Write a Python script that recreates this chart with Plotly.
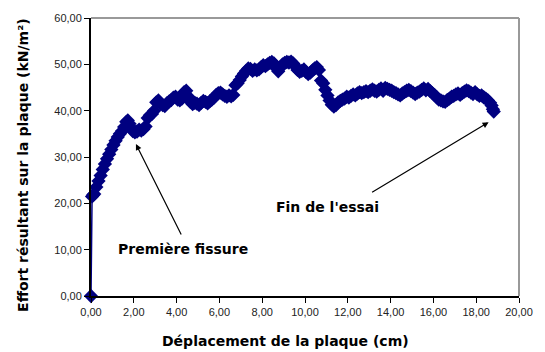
import plotly.graph_objects as go

# Displacement of the plate (cm) and resulting load on the plate (kN/m²)
deplacement = [
    0.00, 0.05, 0.10, 0.15, 0.25, 0.35, 0.45, 0.55, 0.65, 0.75,
    0.85, 0.95, 1.05, 1.15, 1.25, 1.35, 1.45, 1.55, 1.65, 1.72,
    1.80, 1.88, 1.95, 2.05, 2.15, 2.25, 2.35, 2.45, 2.55, 2.65,
    2.75, 2.85, 2.95, 3.05, 3.15, 3.25, 3.35, 3.45, 3.55, 3.65,
    3.75, 3.85, 3.95, 4.05, 4.15, 4.25, 4.35, 4.45, 4.55, 4.65,
    4.75, 4.85, 4.95, 5.05, 5.15, 5.25, 5.35, 5.45, 5.55, 5.65,
    5.75, 5.85, 5.95, 6.05, 6.15, 6.25, 6.35, 6.45, 6.55, 6.65,
    6.75, 6.85, 6.95, 7.05, 7.15, 7.25, 7.35, 7.45, 7.55, 7.65,
    7.75, 7.85, 7.95, 8.05, 8.15, 8.25, 8.35, 8.45, 8.55, 8.65,
    8.75, 8.85, 8.95, 9.05, 9.15, 9.25, 9.35, 9.45, 9.55, 9.65,
    9.75, 9.85, 9.95, 10.05, 10.15, 10.25, 10.35, 10.45, 10.55, 10.65,
    10.75, 10.85, 10.95, 11.05, 11.15, 11.25, 11.35, 11.45, 11.55, 11.65,
    11.75, 11.85, 11.95, 12.05, 12.15, 12.25, 12.35, 12.45, 12.55, 12.65,
    12.75, 12.85, 12.95, 13.05, 13.15, 13.25, 13.35, 13.45, 13.55, 13.65,
    13.75, 13.85, 13.95, 14.05, 14.15, 14.25, 14.35, 14.45, 14.55, 14.65,
    14.75, 14.85, 14.95, 15.05, 15.15, 15.25, 15.35, 15.45, 15.55, 15.65,
    15.75, 15.85, 15.95, 16.05, 16.15, 16.25, 16.35, 16.45, 16.55, 16.65,
    16.75, 16.85, 16.95, 17.05, 17.15, 17.25, 17.35, 17.45, 17.55, 17.65,
    17.75, 17.85, 17.95, 18.05, 18.15, 18.25, 18.35, 18.45, 18.55, 18.65,
    18.72, 18.78, 18.82,
]
effort = [
    0.0, 21.5, 21.8, 22.0, 23.5, 24.8, 26.0, 27.3, 28.5, 29.6,
    30.6, 31.6, 32.6, 33.5, 34.3, 35.0, 35.6, 36.5, 37.6, 37.9,
    37.2, 36.3, 35.6, 35.3, 35.5, 35.9, 35.7, 36.0, 36.6, 38.4,
    39.0, 39.3, 40.0, 41.8, 42.2, 41.5, 41.2, 41.0, 41.6, 42.0,
    42.3, 42.8, 43.0, 42.4, 42.2, 42.6, 44.0, 44.3, 43.0, 41.9,
    41.4, 41.7, 41.5, 41.2, 41.7, 42.1, 41.9, 41.6, 42.0, 42.4,
    42.8, 43.4, 43.8, 43.9, 43.5, 43.2, 43.0, 43.3, 43.1, 43.4,
    45.5, 45.9, 46.6, 47.4, 48.0, 48.6, 49.1, 49.0, 48.6, 48.9,
    48.7, 48.9, 49.4, 49.8, 49.6, 50.0, 50.3, 50.5, 50.2, 49.2,
    48.5, 49.3, 50.0, 50.3, 50.5, 50.4, 50.6, 50.2, 49.6, 48.8,
    48.4, 48.6, 48.9, 48.3, 47.9, 48.2, 48.7, 49.1, 49.4, 48.8,
    46.5, 45.9, 44.5, 43.3, 42.2, 41.3, 40.9, 41.2, 41.8, 42.1,
    42.4, 42.6, 43.0, 42.8, 43.2, 43.5, 43.3, 43.7, 44.0, 43.8,
    44.0, 44.2, 44.0, 44.3, 44.6, 44.3, 44.1, 44.5, 44.8, 44.3,
    44.9, 44.7, 44.5, 44.3, 44.0, 43.8, 43.5, 43.3, 43.7, 44.0,
    44.3, 44.5, 44.2, 43.9, 43.6, 43.9, 44.1, 44.5, 44.8, 44.4,
    44.7, 44.2, 43.8, 43.4, 42.9, 42.4, 42.2, 42.0, 41.9, 42.3,
    42.6, 43.0, 43.2, 43.5, 43.7, 43.4, 43.8, 44.1, 44.4, 44.2,
    43.9, 43.6, 44.0, 43.5, 43.2, 43.3, 42.9, 42.6, 42.2, 41.7,
    41.1, 40.3, 39.8,
]

x_ticks = [0, 2, 4, 6, 8, 10, 12, 14, 16, 18, 20]
y_ticks = [0, 10, 20, 30, 40, 50, 60]

navy = "#000080"
label_font = dict(family="DejaVu Sans", size=14, color="#000000")

fig = go.Figure()
fig.add_trace(go.Scatter(
    x=deplacement, y=effort,
    mode="lines+markers",
    line=dict(color=navy, width=1.5),
    marker=dict(symbol="diamond", size=11, color=navy, line=dict(width=0)),
    cliponaxis=False,
    showlegend=False,
))

axis_common = dict(
    showgrid=False, zeroline=False,
    showline=True, linecolor="#000000", linewidth=2,
    ticks="outside", ticklen=5, tickwidth=1, tickcolor="#000000",
    tickformat=".2f",
    tickfont=dict(family="Liberation Sans", size=11, color="#222222"),
)

fig.update_layout(
    width=545, height=352,
    margin=dict(l=91, r=16, t=13, b=56),
    paper_bgcolor="white", plot_bgcolor="white",
    separators=", ",
    xaxis=dict(range=[0, 20], tickvals=x_ticks, **axis_common),
    yaxis=dict(range=[0, 60], tickvals=y_ticks, **axis_common),
    shapes=[
        dict(type="line", xref="paper", yref="paper", x0=0, x1=1, y0=1, y1=1,
             line=dict(color="#999999", width=2)),
        dict(type="line", xref="paper", yref="paper", x0=1, x1=1, y0=0, y1=1,
             line=dict(color="#999999", width=2)),
    ],
    annotations=[
        # axis titles
        dict(text="<b>Effort résultant sur la plaque (kN/m²)</b>",
             xref="paper", yref="paper", x=-0.1575, y=0.47,
             xanchor="center", yanchor="middle", textangle=-90,
             showarrow=False, font=label_font),
        dict(text="<b>Déplacement de la plaque (cm)</b>",
             xref="paper", yref="paper", x=0.454, y=-0.1625,
             xanchor="center", yanchor="middle",
             showarrow=False, font=label_font),
        # callouts
        dict(x=2.10, y=32.8, xref="x", yref="y", ax=46, ay=92,
             showarrow=True, arrowhead=2, arrowsize=1, arrowwidth=1.2,
             arrowcolor="#000000", text=""),
        dict(text="<b>Première fissure</b>", x=4.29, y=10.2,
             xref="x", yref="y", showarrow=False, font=label_font,
             xanchor="center", yanchor="middle"),
        dict(x=18.58, y=37.5, xref="x", yref="y", ax=-118, ay=71,
             showarrow=True, arrowhead=2, arrowsize=1, arrowwidth=1.2,
             arrowcolor="#000000", text=""),
        dict(text="<b>Fin de l'essai</b>", x=11.05, y=19.3,
             xref="x", yref="y", showarrow=False, font=label_font,
             xanchor="center", yanchor="middle"),
    ],
)

fig.write_html("out.html")
